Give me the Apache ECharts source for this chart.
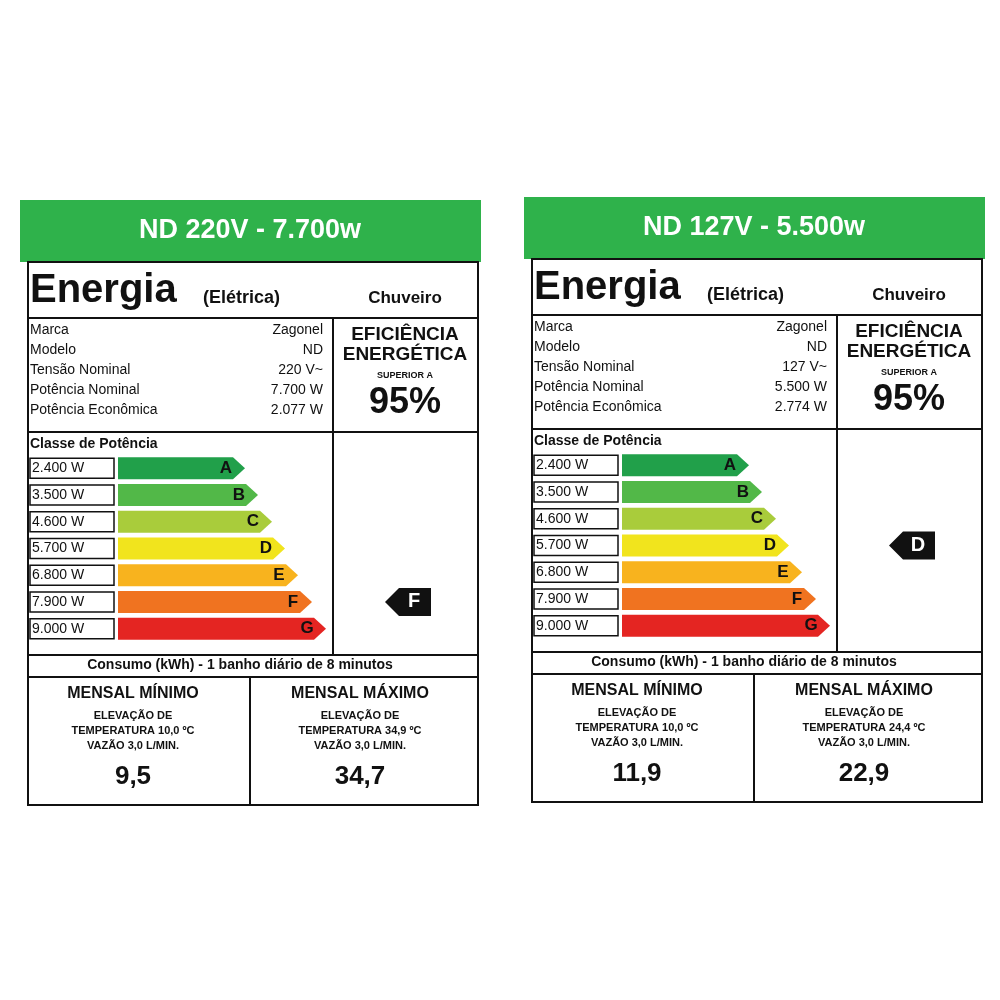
<!DOCTYPE html>
<html><head><meta charset="utf-8">
<script src="https://cdn.jsdelivr.net/npm/echarts@6/dist/echarts.min.js"></script>
<style>html,body{margin:0;background:#fff}#chart{width:1000px;height:1000px}</style>
</head><body><div id="chart"></div>
<script>
const classLetters = ["A", "B", "C", "D", "E", "F", "G"];
const classPowers = ["2.400 W", "3.500 W", "4.600 W", "5.700 W", "6.800 W", "7.900 W", "9.000 W"];
const classColors = ["#21a04a", "#52b848", "#a9cc3b", "#f1e41d", "#f8b31e", "#f07320", "#e42522"];
const barLengths = [127, 140, 154, 167, 180, 194, 208];
const fieldNames = ["Marca", "Modelo", "Tensão Nominal", "Potência Nominal", "Potência Econômica"];

const labels = [
  { dx: 0, dy: 0, title: "ND 220V - 7.700w", values: ["Zagonel", "ND", "220 V~", "7.700 W", "2.077 W"],
    rated: 5, tempMin: "10,0", tempMax: "34,9", kwhMin: "9,5", kwhMax: "34,7" },
  { dx: 504, dy: -3, title: "ND 127V - 5.500w", values: ["Zagonel", "ND", "127 V~", "5.500 W", "2.774 W"],
    rated: 3, tempMin: "10,0", tempMax: "24,4", kwhMin: "11,9", kwhMax: "22,9" },
];

const FONT = "Liberation Sans";
const chart = echarts.init(document.getElementById("chart"));

const txt = (x, y, text, size, opts = {}) => ({
  type: "text", x, y,
  style: { text, fontSize: size, fontFamily: FONT, fontWeight: opts.bold ? "bold" : "normal",
    fill: opts.fill || "#111", align: opts.align || "left", verticalAlign: "middle" },
});
const line = (x1, y1, x2, y2) => ({
  type: "line", shape: { x1, y1, x2, y2 }, style: { stroke: "#111", lineWidth: 2 },
});

const graphic = [];
labels.forEach((l) => {
  const X = (v) => v + l.dx, Y = (v) => v + l.dy;
  graphic.push({ type: "rect", shape: { x: X(20), y: Y(200), width: 461, height: 62 }, style: { fill: "#2fb24b" } });
  graphic.push(txt(X(250), Y(231), l.title, 27, { bold: true, fill: "#fff", align: "center" }));
  graphic.push({ type: "rect", shape: { x: X(28), y: Y(262), width: 450, height: 543 }, style: { fill: "none", stroke: "#111", lineWidth: 2 } });
  graphic.push(txt(X(30), Y(291), "Energia", 40, { bold: true }));
  graphic.push(txt(X(203), Y(298), "(Elétrica)", 18, { bold: true }));
  graphic.push(txt(X(405), Y(298), "Chuveiro", 17, { bold: true, align: "center" }));
  graphic.push(line(X(28), Y(318), X(478), Y(318)));
  fieldNames.forEach((n, i) => {
    graphic.push(txt(X(30), Y(330 + i * 20), n, 14));
    graphic.push(txt(X(323), Y(330 + i * 20), l.values[i], 14, { align: "right" }));
  });
  graphic.push(line(X(333), Y(318), X(333), Y(655)));
  graphic.push(txt(X(405), Y(335), "EFICIÊNCIA", 19, { bold: true, align: "center" }));
  graphic.push(txt(X(405), Y(355), "ENERGÉTICA", 19, { bold: true, align: "center" }));
  graphic.push(txt(X(405), Y(376), "SUPERIOR A", 9, { bold: true, align: "center" }));
  graphic.push(txt(X(405), Y(403), "95%", 36, { bold: true, align: "center" }));
  graphic.push(line(X(28), Y(432), X(478), Y(432)));
  graphic.push(txt(X(30), Y(444), "Classe de Potência", 14, { bold: true }));
  graphic.push(line(X(28), Y(655), X(478), Y(655)));
  graphic.push(txt(X(240), Y(665), "Consumo (kWh) - 1 banho diário de 8 minutos", 14, { bold: true, align: "center" }));
  graphic.push(line(X(28), Y(677), X(478), Y(677)));
  graphic.push(line(X(250), Y(677), X(250), Y(805)));
  [[133, "MENSAL MÍNIMO", l.tempMin, l.kwhMin], [360, "MENSAL MÁXIMO", l.tempMax, l.kwhMax]].forEach(([cx, t, temp, kwh]) => {
    graphic.push(txt(X(cx), Y(694), t, 16, { bold: true, align: "center" }));
    graphic.push(txt(X(cx), Y(716), "ELEVAÇÃO DE", 11, { bold: true, align: "center" }));
    graphic.push(txt(X(cx), Y(731), "TEMPERATURA " + temp + " ºC", 11, { bold: true, align: "center" }));
    graphic.push(txt(X(cx), Y(746), "VAZÃO 3,0 L/MIN.", 11, { bold: true, align: "center" }));
    graphic.push(txt(X(cx), Y(777), kwh, 26, { bold: true, align: "center" }));
  });
});

const grids = [], xAxes = [], yAxes = [], series = [];
labels.forEach((l, k) => {
  grids.push({ left: 118 + l.dx, top: 455 + l.dy, width: 320, height: 187 });
  xAxes.push({ gridIndex: k, type: "value", min: 0, max: 320, show: false });
  yAxes.push({ gridIndex: k, type: "category", data: classPowers, inverse: true,
    axisLine: { show: false }, axisTick: { show: false },
    axisLabel: { align: "left", margin: 88, fontSize: 14, fontFamily: FONT, color: "#111",
      width: 80, height: 18, lineHeight: 18, padding: [2, 2, 0, 2], borderColor: "#111", borderWidth: 1.5 } });
  series.push({
    type: "custom", xAxisIndex: k, yAxisIndex: k,
    data: barLengths.map((v, i) => [v, i]),
    renderItem: (params, api) => {
      const i = api.value(1);
      const start = api.coord([0, i]), end = api.coord([api.value(0), i]);
      const h = 22, x0 = start[0], x1 = end[0], y = start[1];
      return { type: "group", children: [
        { type: "polygon", shape: { points: [[x0, y - h / 2], [x1 - 12, y - h / 2], [x1, y], [x1 - 12, y + h / 2], [x0, y + h / 2]] },
          style: { fill: classColors[i] } },
        { type: "text", x: x1 - 19, y, style: { text: classLetters[i], fontSize: 17, fontWeight: "bold",
          fontFamily: FONT, fill: "#111", align: "center", verticalAlign: "middle" } },
      ] };
    },
  });
  series.push({
    type: "custom", xAxisIndex: k, yAxisIndex: k,
    data: [[267, l.rated]],
    renderItem: (params, api) => {
      const p = api.coord([api.value(0), api.value(1)]);
      const x = p[0], y = p[1], h = 28, w = 46;
      return { type: "group", children: [
        { type: "polygon", shape: { points: [[x, y], [x + 14, y - h / 2], [x + w, y - h / 2], [x + w, y + h / 2], [x + 14, y + h / 2]] },
          style: { fill: "#111" } },
        { type: "text", x: x + 29, y, style: { text: classLetters[api.value(1)], fontSize: 20, fontWeight: "bold",
          fontFamily: FONT, fill: "#fff", align: "center", verticalAlign: "middle" } },
      ] };
    },
  });
});

chart.setOption({ animation: false, grid: grids, xAxis: xAxes, yAxis: yAxes, series, graphic });
</script></body></html>
